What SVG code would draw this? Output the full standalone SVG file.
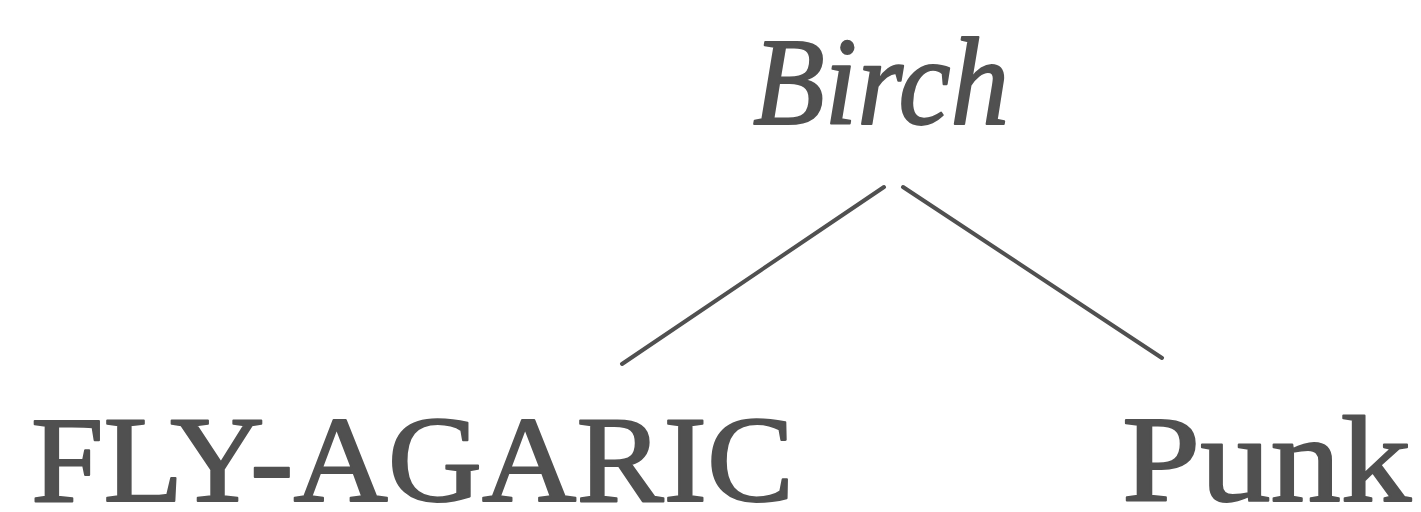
<svg xmlns="http://www.w3.org/2000/svg" width="1421" height="512" viewBox="0 0 1421 512">
<style>
.t{font-family:"Liberation Serif","DejaVu Serif",serif;fill:#505050;stroke:#505050;stroke-width:2;stroke-linejoin:round}
.e{stroke:#505050;stroke-width:4;fill:none;stroke-linecap:round}
</style>
<rect width="1421" height="512" fill="#ffffff"/>
<g id="connectors">
<line class="e" x1="884" y1="187" x2="622" y2="364"/>
<line class="e" x1="903" y1="187" x2="1162" y2="358"/>
</g>
<g id="birch"><text class="t" x="753" y="124" font-size="124" font-style="italic" textLength="256" lengthAdjust="spacingAndGlyphs">Birch</text></g>
<g id="fly-agaric"><text class="t" x="31" y="501" font-size="122" textLength="763" lengthAdjust="spacingAndGlyphs">FLY-AGARIC</text></g>
<g id="punk"><text class="t" x="1122" y="501" font-size="122" textLength="289" lengthAdjust="spacingAndGlyphs">Punk</text></g>
</svg>
